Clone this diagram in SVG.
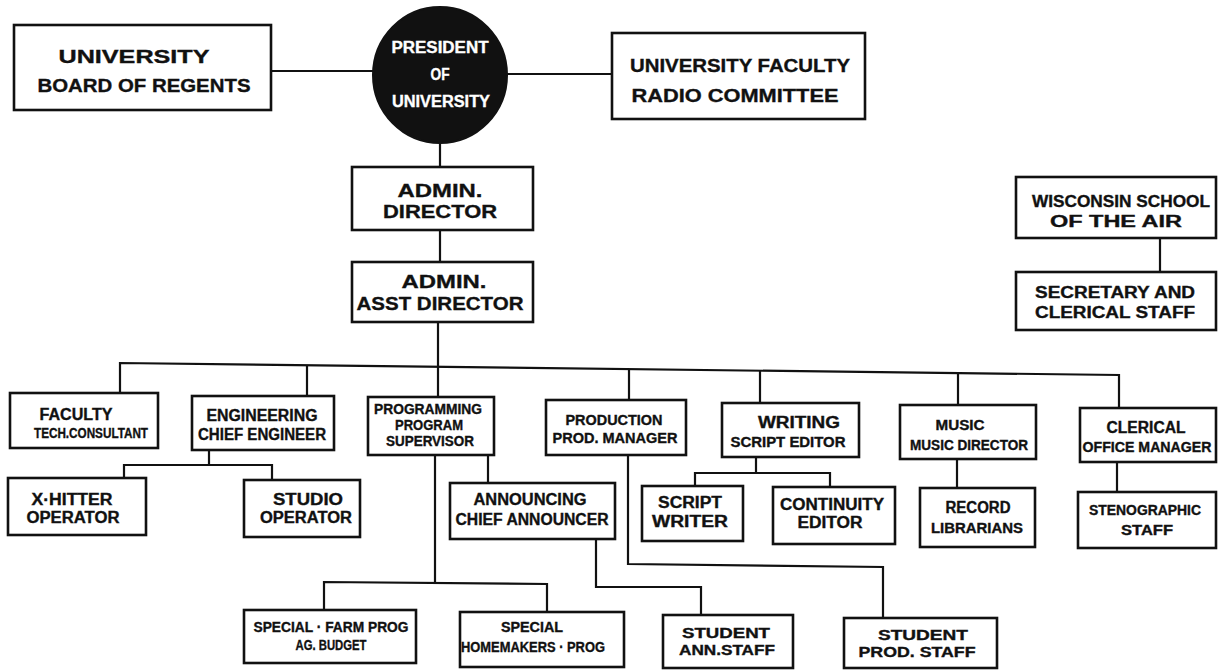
<svg xmlns="http://www.w3.org/2000/svg" width="1218" height="670" viewBox="0 0 1218 670">
<style>
.box{fill:#fff;stroke:#111;stroke-width:2.6}
.ln{fill:none;stroke:#111;stroke-width:2.2;stroke-linejoin:miter}
text{font-family:"Liberation Sans",Arial,sans-serif;font-weight:bold;fill:#111;stroke:#111;stroke-width:0.35;text-anchor:middle}
.a{font-size:19px}
.b{font-size:16px}
.c{font-size:14px}
.w{fill:#fff;stroke:#fff}
</style>
<rect width="1218" height="670" fill="#fff"/>
<g id="connectors">
<path class="ln" d="M271,71 H373"/>
<path class="ln" d="M507,74 H612"/>
<path class="ln" d="M440,143 V167"/>
<path class="ln" d="M440,230 V262"/>
<path class="ln" d="M438,322 V397"/>
<path class="ln" d="M120,393 V363 L1119,375 V408"/>
<path class="ln" d="M307,365 V396"/>
<path class="ln" d="M629,369 V400"/>
<path class="ln" d="M760,371 V403"/>
<path class="ln" d="M958,373 V405"/>
<path class="ln" d="M209,450 V465"/>
<path class="ln" d="M124,478 V465 H272 V480"/>
<path class="ln" d="M488,455 V483"/>
<path class="ln" d="M435,455 V582"/>
<path class="ln" d="M324,610 V582 L547,584 V612"/>
<path class="ln" d="M596,539 V587 H701 V615"/>
<path class="ln" d="M628,455 V564 L883,567 V618"/>
<path class="ln" d="M756,457 V473"/>
<path class="ln" d="M695,486 V473 H830 V487"/>
<path class="ln" d="M957,459 V488"/>
<path class="ln" d="M1117,462 V492"/>
<path class="ln" d="M1160,238 V272"/>
</g>
<g id="board-of-regents">
<rect class="box" x="14" y="25" width="257" height="85"/>
<text class="a" x="134" y="63" textLength="151" lengthAdjust="spacingAndGlyphs">UNIVERSITY</text>
<text class="a" x="144" y="92" textLength="213" lengthAdjust="spacingAndGlyphs">BOARD OF REGENTS</text>
</g>
<g id="president">
<ellipse cx="440" cy="75" rx="67" ry="68" fill="#111" stroke="#111" stroke-width="2"/>
<text class="b w" x="440" y="53" textLength="97" lengthAdjust="spacingAndGlyphs">PRESIDENT</text>
<text class="b w" x="440" y="80" textLength="19" lengthAdjust="spacingAndGlyphs">OF</text>
<text class="b w" x="441" y="107" textLength="98" lengthAdjust="spacingAndGlyphs">UNIVERSITY</text>
</g>
<g id="faculty-radio-committee">
<rect class="box" x="612" y="33" width="253" height="86"/>
<text class="a" x="740" y="72" textLength="220" lengthAdjust="spacingAndGlyphs">UNIVERSITY FACULTY</text>
<text class="a" x="735" y="102" textLength="207" lengthAdjust="spacingAndGlyphs">RADIO COMMITTEE</text>
</g>
<g id="admin-director">
<rect class="box" x="352" y="167" width="181" height="63"/>
<text class="a" x="440" y="197" textLength="85" lengthAdjust="spacingAndGlyphs">ADMIN.</text>
<text class="a" x="440" y="218" textLength="114" lengthAdjust="spacingAndGlyphs">DIRECTOR</text>
</g>
<g id="admin-asst-director">
<rect class="box" x="352" y="262" width="181" height="60"/>
<text class="a" x="444" y="288" textLength="85" lengthAdjust="spacingAndGlyphs">ADMIN.</text>
<text class="a" x="440" y="310" textLength="167" lengthAdjust="spacingAndGlyphs">ASST DIRECTOR</text>
</g>
<g id="wisconsin-school">
<rect class="box" x="1016" y="177" width="200" height="61"/>
<text class="b" x="1121" y="207" textLength="178" lengthAdjust="spacingAndGlyphs">WISCONSIN SCHOOL</text>
<text class="b" x="1116" y="227" textLength="132" lengthAdjust="spacingAndGlyphs">OF THE AIR</text>
</g>
<g id="secretary-clerical">
<rect class="box" x="1016" y="272" width="200" height="58"/>
<text class="b" x="1115" y="298" textLength="160" lengthAdjust="spacingAndGlyphs">SECRETARY AND</text>
<text class="b" x="1115" y="318" textLength="160" lengthAdjust="spacingAndGlyphs">CLERICAL STAFF</text>
</g>
<g id="faculty-tech">
<rect class="box" x="10" y="393" width="148" height="55"/>
<text class="b" x="76" y="420" textLength="73" lengthAdjust="spacingAndGlyphs">FACULTY</text>
<text class="c" x="91" y="438" textLength="114" lengthAdjust="spacingAndGlyphs">TECH.CONSULTANT</text>
</g>
<g id="engineering">
<rect class="box" x="192" y="396" width="142" height="54"/>
<text class="b" x="262" y="421" textLength="111" lengthAdjust="spacingAndGlyphs">ENGINEERING</text>
<text class="b" x="262" y="440" textLength="128" lengthAdjust="spacingAndGlyphs">CHIEF ENGINEER</text>
</g>
<g id="programming">
<rect class="box" x="368" y="397" width="126" height="58"/>
<text class="c" x="428" y="414" textLength="108" lengthAdjust="spacingAndGlyphs">PROGRAMMING</text>
<text class="c" x="429" y="430" textLength="68" lengthAdjust="spacingAndGlyphs">PROGRAM</text>
<text class="c" x="430" y="446" textLength="88" lengthAdjust="spacingAndGlyphs">SUPERVISOR</text>
</g>
<g id="production">
<rect class="box" x="546" y="400" width="140" height="55"/>
<text class="c" x="614" y="425" textLength="97" lengthAdjust="spacingAndGlyphs">PRODUCTION</text>
<text class="c" x="615" y="443" textLength="125" lengthAdjust="spacingAndGlyphs">PROD. MANAGER</text>
</g>
<g id="writing">
<rect class="box" x="722" y="403" width="137" height="54"/>
<text class="b" x="799" y="428" textLength="82" lengthAdjust="spacingAndGlyphs">WRITING</text>
<text class="c" x="788" y="447" textLength="115" lengthAdjust="spacingAndGlyphs">SCRIPT EDITOR</text>
</g>
<g id="music">
<rect class="box" x="900" y="405" width="136" height="54"/>
<text class="c" x="960" y="430" textLength="49" lengthAdjust="spacingAndGlyphs">MUSIC</text>
<text class="c" x="969" y="450" textLength="118" lengthAdjust="spacingAndGlyphs">MUSIC DIRECTOR</text>
</g>
<g id="clerical">
<rect class="box" x="1080" y="408" width="136" height="54"/>
<text class="b" x="1146" y="433" textLength="79" lengthAdjust="spacingAndGlyphs">CLERICAL</text>
<text class="c" x="1147" y="452" textLength="129" lengthAdjust="spacingAndGlyphs">OFFICE MANAGER</text>
</g>
<g id="x-hitter">
<rect class="box" x="8" y="478" width="138" height="57"/>
<text class="b" x="72" y="505" textLength="81" lengthAdjust="spacingAndGlyphs">X·HITTER</text>
<text class="b" x="73" y="523" textLength="93" lengthAdjust="spacingAndGlyphs">OPERATOR</text>
</g>
<g id="studio-operator">
<rect class="box" x="244" y="480" width="116" height="57"/>
<text class="b" x="308" y="505" textLength="70" lengthAdjust="spacingAndGlyphs">STUDIO</text>
<text class="b" x="306" y="523" textLength="92" lengthAdjust="spacingAndGlyphs">OPERATOR</text>
</g>
<g id="announcing">
<rect class="box" x="450" y="483" width="165" height="56"/>
<text class="b" x="530" y="505" textLength="113" lengthAdjust="spacingAndGlyphs">ANNOUNCING</text>
<text class="b" x="532" y="525" textLength="153" lengthAdjust="spacingAndGlyphs">CHIEF ANNOUNCER</text>
</g>
<g id="script-writer">
<rect class="box" x="642" y="486" width="101" height="55"/>
<text class="b" x="690" y="508" textLength="64" lengthAdjust="spacingAndGlyphs">SCRIPT</text>
<text class="b" x="690" y="527" textLength="76" lengthAdjust="spacingAndGlyphs">WRITER</text>
</g>
<g id="continuity-editor">
<rect class="box" x="773" y="487" width="122" height="57"/>
<text class="b" x="832" y="510" textLength="104" lengthAdjust="spacingAndGlyphs">CONTINUITY</text>
<text class="b" x="830" y="528" textLength="65" lengthAdjust="spacingAndGlyphs">EDITOR</text>
</g>
<g id="record-librarians">
<rect class="box" x="920" y="488" width="115" height="59"/>
<text class="b" x="978" y="513" textLength="65" lengthAdjust="spacingAndGlyphs">RECORD</text>
<text class="c" x="977" y="533" textLength="92" lengthAdjust="spacingAndGlyphs">LIBRARIANS</text>
</g>
<g id="stenographic-staff">
<rect class="box" x="1078" y="492" width="138" height="56"/>
<text class="c" x="1145" y="515" textLength="112" lengthAdjust="spacingAndGlyphs">STENOGRAPHIC</text>
<text class="c" x="1147" y="535" textLength="52" lengthAdjust="spacingAndGlyphs">STAFF</text>
</g>
<g id="special-farm">
<rect class="box" x="244" y="610" width="172" height="53"/>
<text class="c" x="331" y="632" textLength="155" lengthAdjust="spacingAndGlyphs">SPECIAL · FARM PROG</text>
<text class="c" x="331" y="650" textLength="71" lengthAdjust="spacingAndGlyphs">AG. BUDGET</text>
</g>
<g id="special-homemakers">
<rect class="box" x="460" y="612" width="164" height="55"/>
<text class="c" x="532" y="632" textLength="62" lengthAdjust="spacingAndGlyphs">SPECIAL</text>
<text class="c" x="533" y="652" textLength="144" lengthAdjust="spacingAndGlyphs">HOMEMAKERS · PROG</text>
</g>
<g id="student-ann-staff">
<rect class="box" x="663" y="615" width="130" height="53"/>
<text class="c" x="726" y="638" textLength="88" lengthAdjust="spacingAndGlyphs">STUDENT</text>
<text class="c" x="727" y="655" textLength="96" lengthAdjust="spacingAndGlyphs">ANN.STAFF</text>
</g>
<g id="student-prod-staff">
<rect class="box" x="844" y="618" width="153" height="50"/>
<text class="c" x="923" y="640" textLength="90" lengthAdjust="spacingAndGlyphs">STUDENT</text>
<text class="c" x="917" y="657" textLength="117" lengthAdjust="spacingAndGlyphs">PROD. STAFF</text>
</g>
</svg>
